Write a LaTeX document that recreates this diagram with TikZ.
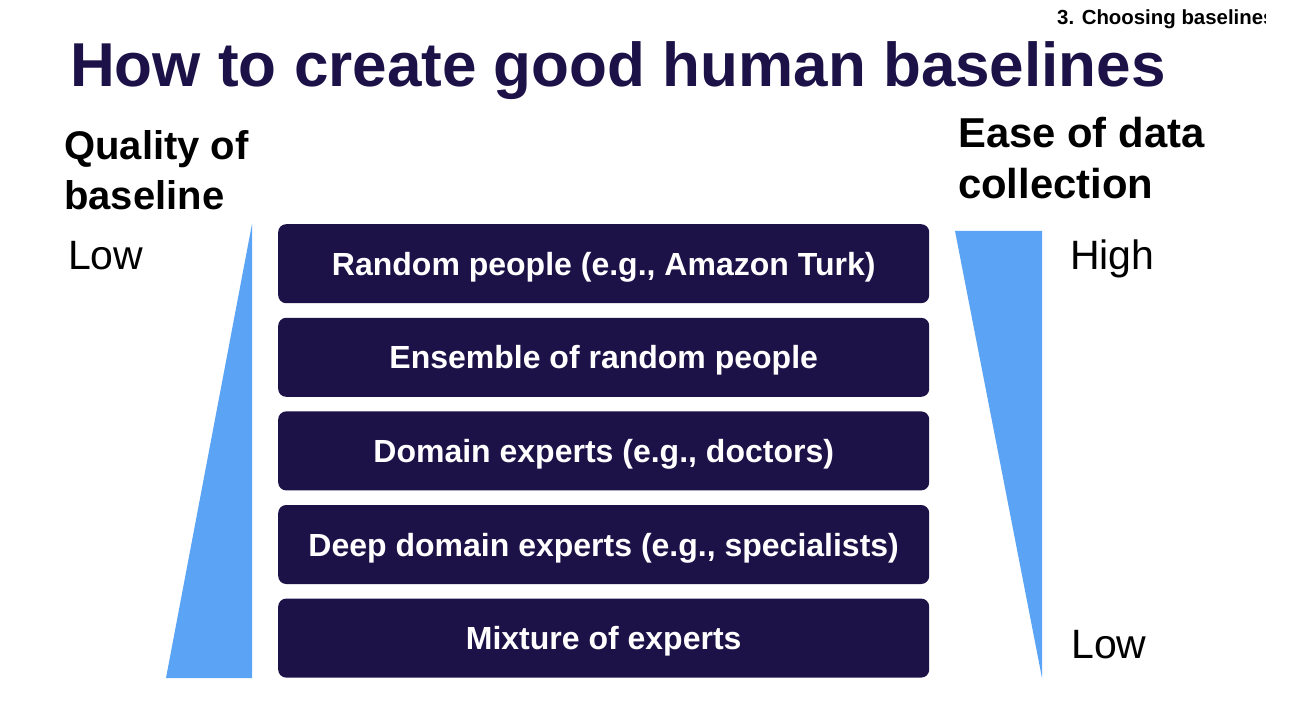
\documentclass[tikz,border=0pt]{standalone}
\usepackage{fontspec}
\setmainfont{Liberation Sans}
\begin{document}
\begin{tikzpicture}[x=1pt, y=-1pt]
  % Colors
  \definecolor{navycol}{RGB}{28,18,72}
  \definecolor{wedgecol}{RGB}{91,163,245}
  %
  \def\bx{278}
  \def\by{224}
  \def\bs{93.6}
  %
  \tikzset{
    rowbox/.style={fill=navycol, rounded corners=8pt, minimum width=651pt, minimum height=79pt,
                   inner sep=0pt, anchor=north west, text=white, text height=23pt, text depth=0pt,
                   font=\fontsize{32}{38}\selectfont\bfseries},
    axislabel/.style={anchor=base west, align=left, inner sep=0pt,
                      font=\fontsize{40}{50}\selectfont\bfseries},
    endlabel/.style={anchor=base west, inner sep=0pt, font=\fontsize{41}{48}\selectfont},
  }
  %
  \useasboundingbox (0,0) rectangle (1316,708);
  %
  %%% HEADER %%%
  \begin{scope}
    \clip (1040,0) rectangle (1265,40);
    \node[anchor=base west, inner sep=0pt, font=\fontsize{20.4}{24}\selectfont\bfseries]
      (section) at (1057,25) {3. Choosing baselines};
  \end{scope}
  \node[anchor=base west, inner sep=0pt, text=navycol, font=\fontsize{62}{70}\selectfont\bfseries]
    (title) at (70,87) {How to create good human baselines};
  %
  %%% LEFT SIDE %%%
  \node[axislabel] (quality) at (64,210) {Quality of\\baseline};
  \node[endlabel] (qlow) at (68,270) {Low};
  \fill[wedgecol] (166,678) -- (252,224) -- (252,678) -- cycle;
  %
  % Rows of baselines
  \foreach \n/\txt in {
    0/{Random people (e.g., Amazon Turk)},
    1/{Ensemble of random people},
    2/{Domain experts (e.g., doctors)},
    3/{Deep domain experts (e.g., specialists)},
    4/{Mixture of experts}%
  } {
    \node[rowbox] (row\n) at (\bx, {\by+\n*\bs}) {\txt};
  }
  %
  %%% RIGHT SIDE %%%
  \node[axislabel, font=\fontsize{41.8}{51}\selectfont\bfseries] (ease) at (958,199) {Ease of data\\collection};
  \fill[wedgecol] (955,231) -- (1042,231) -- (1042,678) -- cycle;
  \node[endlabel] (ehigh) at (1070,270) {High};
  \node[endlabel] (elow) at (1071,658) {Low};
\end{tikzpicture}
\end{document}
